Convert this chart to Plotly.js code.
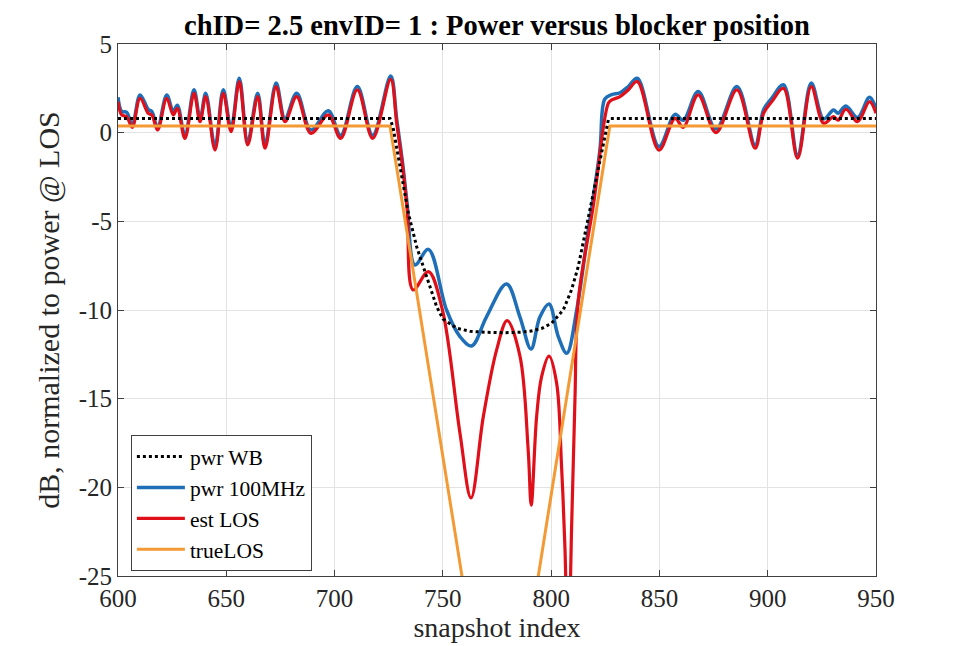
<!DOCTYPE html>
<html>
<head>
<meta charset="utf-8">
<script src="https://cdn.plot.ly/plotly-3.0.1.min.js"></script>
<style>
  html, body { margin: 0; padding: 0; background: #fff; }
  #chart { width: 957px; height: 646px; }
</style>
</head>
<body>
<div id="chart"></div>
<script>
// pwr WB (dotted black)
var wbX = [600, 725.6, 727, 729.4, 734, 737.9, 742.5, 747.1, 750, 756.4, 762.5, 770, 777.9, 785, 790.2, 795.5, 800.2, 805.6, 809.4, 812.5, 819.5, 826.4, 827.5, 950];
var wbY = [0.8, 0.8, 0.3, -1.35, -4.5, -6.43, -8.12, -9.8, -10.5, -11.03, -11.2, -11.26, -11.28, -11.26, -11.2, -11.05, -10.75, -10.0, -8.87, -7.56, -3.4, 0.72, 0.8, 0.8];

// pwr 100MHz (blue)
var bwX = [600, 601.7, 604, 606.6, 610.2, 614, 615.6, 618.3, 622.5, 625.5, 627.4, 630.9, 635.1, 637.9, 640.5, 644.8, 648.6, 652.2, 656, 659.9, 664.5, 667.9, 673, 677.1, 682.5, 689.1, 697.1, 702.8, 710.5, 717.6, 725.9, 728.7, 731.5, 733.5, 737.1, 743.3, 751.7, 757.9, 763.3, 770.1, 779.4, 785.6, 790.7, 794.8, 799, 803.3, 807.2, 811.8, 817, 822.5, 824.8, 828, 831.8, 835.6, 839.8, 849.8, 857.2, 861, 867.9, 876.1, 885.8, 894.2, 898.1, 901.9, 907.3, 913.8, 920.1, 925.8, 930.4, 932.5, 936.1, 941.5, 947, 950];
var bwY = [2.0, 1.2, 1.15, 0.45, 2.13, 1.3, 1.2, 0.3, 2.13, 1.2, 1.55, -0.15, 2.42, 0.8, 2.22, -0.8, 2.42, 0.25, 3.07, -0.5, 2.22, -0.7, 2.8, 0.8, 2.22, 0.15, 1.24, -0.15, 2.6, -0.15, 3.2, 0.75, -1.8, -4.0, -7.46, -6.58, -10.0, -11.5, -12.03, -10.4, -8.53, -10.4, -12.2, -10.4, -9.66, -11.5, -12.44, -10.0, -5.6, -1.0, 1.9, 2.15, 2.25, 2.6, 3.07, -0.78, 1.03, 0.7, 2.32, 0.2, 2.6, -0.7, 1.3, 1.95, 2.7, -1.25, 2.8, 0.77, 1.28, 1.1, 1.5, 0.85, 2.0, 1.37];

// est LOS (red)
var estX = [600, 601.7, 604, 606.6, 610.2, 614, 615.6, 618.3, 622.5, 625.5, 627.4, 630.9, 635.1, 637.9, 640.5, 644.8, 648.6, 652.2, 656, 659.9, 664.5, 667.9, 673, 677.1, 682.5, 689.1, 697.1, 702.8, 710.5, 717.6, 725.9, 728.7, 731.5, 733.5, 736.3, 743.3, 749.8, 757.9, 763, 768.7, 774.8, 779.7, 785.6, 789.4, 790.8, 793.3, 795.6, 799, 802.5, 804.8, 806.4, 807.8, 809.5, 811, 812.5, 819.5, 826.4, 828, 831.8, 835.6, 839.8, 849.8, 857.2, 861, 867.9, 876.1, 885.8, 894.2, 898.1, 901.9, 907.3, 913.8, 920.1, 925.8, 930.4, 932.5, 936.1, 941.5, 947, 950];
var estY = [1.75, 1.0, 0.9, 0.3, 1.94, 1.09, 1.0, 0.15, 1.94, 1.0, 1.37, -0.32, 2.22, 0.62, 2.03, -0.98, 2.22, 0.06, 2.88, -0.69, 2.03, -0.88, 2.6, 0.62, 2.03, -0.04, 1.0, -0.32, 2.41, -0.32, 3.01, 0.53, -2.0, -4.3, -8.87, -7.84, -10.0, -16.95, -20.6, -16.0, -12.26, -10.6, -12.6, -17.9, -21.0, -16.0, -13.76, -12.6, -14.1, -18.8, -23.5, -30.0, -22.0, -15.0, -9.5, -4.1, 1.66, 1.85, 2.03, 2.41, 2.88, -0.98, 0.81, 0.3, 2.13, 0.0, 2.41, -0.88, 1.09, 1.75, 2.5, -1.44, 2.6, 0.53, 0.9, 0.7, 1.32, 0.62, 1.75, 1.09];

// trueLOS (orange)
var trueX = [600, 725.6, 776.5, 827.1, 950];
var trueY = [0.38, 0.38, -38.5, 0.38, 0.38];

var xTicks = [600, 650, 700, 750, 800, 850, 900, 950];
var yTicks = [-25, -20, -15, -10, -5, 0, 5];
var yTickText = ['-25', '-20', '-15', '-10', '-5', '0', '5'];

var serif = 'Liberation Serif, Times New Roman, serif';

var pwr100 = {
    x: bwX, y: bwY, name: 'pwr 100MHz', type: 'scatter', mode: 'lines',
    line: { color: '#1f6fb8', width: 3.5, shape: 'spline', smoothing: 1 },
    legendrank: 2
};
var estLos = {
    x: estX, y: estY, name: 'est LOS', type: 'scatter', mode: 'lines',
    line: { color: '#e0101a', width: 3.2, shape: 'spline', smoothing: 1 },
    legendrank: 3
};
var trueLos = {
    x: trueX, y: trueY, name: 'trueLOS', type: 'scatter', mode: 'lines',
    line: { color: '#f39a35', width: 3 },
    legendrank: 4
};
var pwrWb = {
    x: wbX, y: wbY, name: 'pwr WB', type: 'scatter', mode: 'lines',
    line: { color: '#000000', width: 3, dash: 'dot' },
    legendrank: 1
};

var data = [pwr100, estLos, trueLos, pwrWb];

var axisCommon = {
    showline: true,
    linecolor: '#404040',
    linewidth: 1,
    mirror: 'ticks',
    ticks: 'inside',
    ticklen: 6,
    tickcolor: '#404040',
    showgrid: true,
    gridcolor: '#e3e3e3',
    gridwidth: 1,
    zeroline: false,
    tickfont: { family: serif, size: 25, color: '#262626' }
};

var layout = {
    width: 957,
    height: 646,
    margin: { l: 118, r: 81, t: 44, b: 70, pad: 0 },
    paper_bgcolor: '#ffffff',
    plot_bgcolor: '#ffffff',
    title: {
        text: '<b>chID= 2.5 envID= 1 : Power versus blocker position</b>',
        font: { family: serif, size: 28.5, color: '#000000' },
        x: 0.5, xref: 'paper', xanchor: 'center',
        y: 0.962, yanchor: 'middle'
    },
    xaxis: Object.assign({}, axisCommon, {
        range: [600, 950],
        tickvals: xTicks,
        title: { text: 'snapshot index', font: { family: serif, size: 28, color: '#262626' }, standoff: 4 }
    }),
    yaxis: Object.assign({}, axisCommon, {
        range: [-25, 5],
        tickvals: yTicks,
        ticktext: yTickText,
        title: { text: 'dB, normalized to power @ LOS', font: { family: serif, size: 30, color: '#262626' }, standoff: 10 }
    }),
    showlegend: true,
    legend: {
        x: 0.017, y: 0.265, xanchor: 'left', yanchor: 'top',
        bgcolor: '#ffffff',
        bordercolor: '#404040',
        borderwidth: 1,
        font: { family: serif, size: 21.5, color: '#000000' },
        itemwidth: 48,
        tracegroupgap: 0
    }
};

Plotly.newPlot('chart', data, layout, { displayModeBar: false, staticPlot: true });
</script>
</body>
</html>
